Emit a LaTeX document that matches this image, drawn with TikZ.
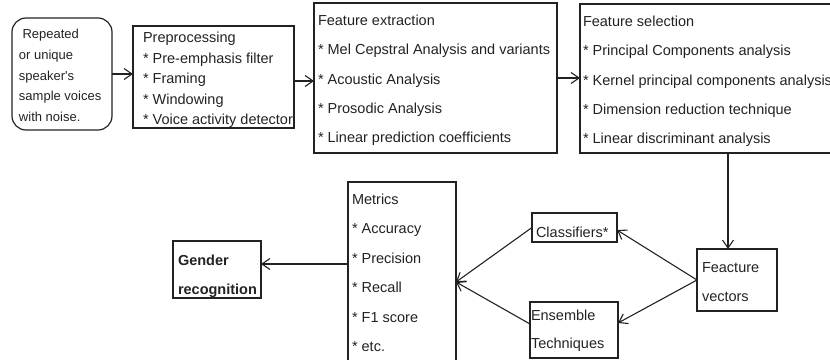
\documentclass[tikz,border=0pt]{standalone}
\usepackage{fontspec}
\setmainfont{Liberation Sans}
\usetikzlibrary{arrows.meta}
\definecolor{ink}{HTML}{222222}
\tikzset{
  box/.style={draw=ink, line width=1.2pt, inner sep=0pt, outer sep=0pt, anchor=north west},
  lbl/.style={anchor=north west, inner sep=0pt, outer sep=0pt, align=left, text=ink,
    font=\fontsize{14.5}{29.3}\selectfont},
  arr/.style={draw=ink, line width=1.1pt, -{Straight Barb[length=8pt,width=11pt]}}
}
\begin{document}
\begin{tikzpicture}[x=1pt,y=-1pt]
\useasboundingbox (0,0) rectangle (830,359);
% boxes
\node[box, rounded corners=14pt, minimum width=100pt, minimum height=112pt] (src) at (12,18) {};
\node[box, minimum width=161pt, minimum height=102pt] (pre) at (133,26) {};
\node[box, minimum width=243pt, minimum height=150pt] (fe) at (314,3) {};
\node[box, minimum width=270pt, minimum height=149pt] (fs) at (580,4) {};
\node[box, minimum width=80pt, minimum height=62pt] (fv) at (697,249) {};
\node[box, minimum width=85pt, minimum height=29pt] (cls) at (532,213) {};
\node[box, minimum width=88pt, minimum height=56pt] (ens) at (530,302) {};
\node[box, minimum width=108pt, minimum height=190pt] (met) at (348,182) {};
\node[box, minimum width=88pt, minimum height=57pt] (gen) at (173,241) {};
% texts
\node[lbl, font=\fontsize{13}{20.7}\selectfont] (srct) at (19,29.4)
  {\hspace*{3.5pt}Repeated\\or unique\\speaker\textquotesingle s\\sample voices\\with noise.};
\node[lbl, font=\fontsize{14.5}{20.6}\selectfont] (pret) at (143,32)
  {Preprocessing\\* Pre-emphasis filter\\* Framing\\* Windowing\\* Voice activity detector};
\node[lbl] (fet) at (318,15)
  {Feature extraction\\* Mel Cepstral Analysis and variants\\* Acoustic Analysis\\* Prosodic Analysis\\* Linear prediction coefficients};
\node[lbl] (fst) at (583,16)
  {Feature selection\\* Principal Components analysis\\* Kernel principal components analysis\\* Dimension reduction technique\\* Linear discriminant analysis};
\node[lbl, font=\fontsize{14.5}{29}\selectfont] (fvt) at (702,263) {Feacture\\vectors};
\node[lbl] (clst) at (536,227) {Classifiers*};
\node[lbl, font=\fontsize{14.5}{28}\selectfont] (enst) at (531,310) {Ensemble\\Techniques};
\node[lbl, font=\fontsize{14.5}{29.4}\selectfont] (mett) at (352,194)
  {Metrics\\* Accuracy\\* Precision\\* Recall\\* F1 score\\* etc.};
\node[lbl, font=\fontsize{14.5}{29}\selectfont\bfseries] (gent) at (178,255) {Gender\\recognition};
% connectors
\draw[arr] (src.east) -- (src.east -| pre.west);
\draw[arr] (pre.east |- 0,81) -- (fe.west |- 0,81);
\draw[arr] (fe.east) -- (fe.east -| fs.west);
\draw[arr] ([xshift=-9pt]fv.north |- fs.south) -- ([xshift=-9pt]fv.north);
\draw[arr] (fv.west) -- (cls.east |- 0,230);
\draw[arr] (fv.west) -- (ens.east |- 0,323);
\draw[arr] (cls.west) -- (met.east |- 0,282);
\draw[arr] (ens.west |- 0,324) -- (met.east |- 0,282);
\draw[arr] (met.west |- 0,264) -- (gen.east |- 0,264);
\end{tikzpicture}
\end{document}
